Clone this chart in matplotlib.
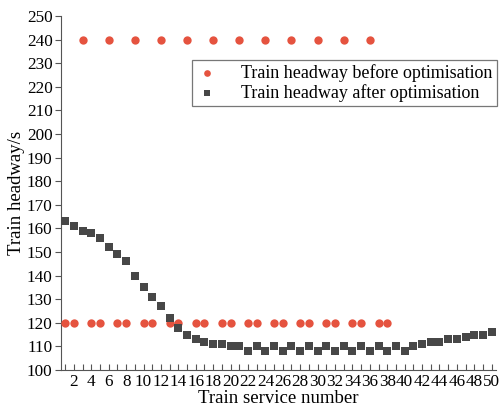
import matplotlib
matplotlib.use("Agg")
import matplotlib.pyplot as plt

plt.rcParams['font.family'] = ['Liberation Serif', 'DejaVu Serif']

# headway before optimisation: trains 1..38
before_x = list(range(1, 39))
before_y = [240 if n % 3 == 0 else 120 for n in before_x]

# headway after optimisation: trains 1..50
after_x = list(range(1, 51))
after_y = [163, 161, 159, 158, 156, 152, 149, 146, 140, 135,
           131, 127, 122, 118, 115, 113, 112, 111, 111, 110,
           110, 108, 110, 108, 110, 108, 110, 108, 110, 108,
           110, 108, 110, 108, 110, 108, 110, 108, 110, 108,
           110, 111, 112, 112, 113, 113, 114, 115, 115, 116]

fig = plt.figure(figsize=(4.99, 4.12), dpi=100)
ax = fig.add_axes([0.122, 0.102, 0.872, 0.859])

ax.scatter(before_x, before_y, s=36, marker='o', color='#e5533f',
           linewidths=0, label='Train headway before optimisation', zorder=3)
ax.scatter(after_x, after_y, s=36, marker='s', color='#474747',
           linewidths=0, label='Train headway after optimisation', zorder=3)

ax.set_xlim(0.5, 50.5)
ax.set_ylim(100, 250)
ax.set_xticks(range(2, 51, 2))
ax.set_xticks(range(1, 51), minor=True)
ax.set_yticks(range(100, 251, 10))
ax.tick_params(axis='both', which='both', labelsize=12.3, width=0.8,
               color='#555555')
ax.tick_params(axis='x', which='both', direction='in', length=4, pad=3)
ax.tick_params(axis='y', direction='out', length=4, pad=2)

for side in ['top', 'right']:
    ax.spines[side].set_visible(False)
for side in ['left', 'bottom']:
    ax.spines[side].set_color('#555555')

ax.set_xlabel('Train service number', fontsize=13.5, labelpad=0)
ax.set_ylabel('Train headway/s', fontsize=13.5, labelpad=1)

leg = ax.legend(loc='upper right', bbox_to_anchor=(1.003, 0.877), fontsize=13,
                fancybox=False, edgecolor='#777777', framealpha=1,
                borderpad=0.25, handlelength=1.2, handletextpad=1.3,
                labelspacing=0.1, scatterpoints=1, markerscale=0.8,
                borderaxespad=0)
leg.get_frame().set_linewidth(0.9)

fig.savefig('out.png', dpi=100)
